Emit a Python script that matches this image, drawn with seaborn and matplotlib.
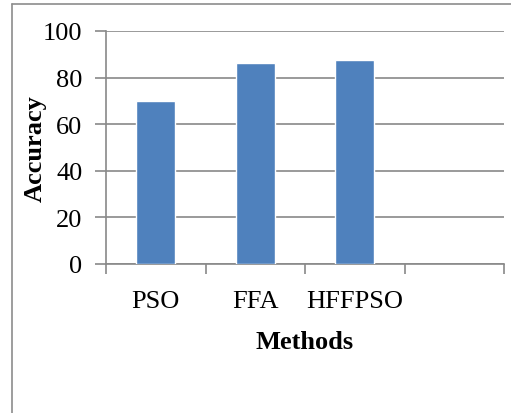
import numpy as np
import pandas as pd
import seaborn as sns
import matplotlib.pyplot as plt
from matplotlib.lines import Line2D

# chart data
methods = ["PSO", "FFA", "HFFPSO", ""]
accuracy = [70, 86.3, 87.5, np.nan]
yticks = [0, 20, 40, 60, 80, 100]

df = pd.DataFrame({"Methods": methods, "Accuracy": accuracy})

sns.set_theme(style="white")
plt.rcParams["font.family"] = ["Liberation Serif", "DejaVu Serif"]

fs = 19
fig = plt.figure(figsize=(5.11, 4.14), dpi=100)
ax = fig.add_axes([106 / 511, 1 - 265 / 414, 398 / 511, 233 / 414])

sns.barplot(data=df, x="Methods", y="Accuracy", order=methods, color="#4f81bd",
            width=0.39, saturation=1, ax=ax, zorder=3)

grid_c = "#898989"
ax.set_ylim(0, 100)
ax.set_xlim(-0.5, len(methods) - 0.5)
ax.set_yticks(yticks)
ax.set_yticklabels([str(t) for t in yticks], fontsize=fs)
ax.set_xticks(range(len(methods)))
ax.set_xticklabels(methods, fontsize=fs)
ax.set_xticks(np.arange(-0.5, len(methods)), minor=True)
ax.tick_params(axis="x", which="major", bottom=True, length=0, pad=19, colors="black")
ax.tick_params(axis="x", which="minor", bottom=True, length=7, width=1.2,
               color=grid_c, direction="out")
ax.tick_params(axis="y", left=True, length=8, width=1.2, color=grid_c,
               direction="out", pad=9, labelcolor="black")
ax.yaxis.grid(True, color=grid_c, linewidth=1.2, zorder=0)
ax.set_axisbelow(True)

for s in ["top", "right"]:
    ax.spines[s].set_visible(False)
for s in ["left", "bottom"]:
    ax.spines[s].set_color(grid_c)
    ax.spines[s].set_linewidth(1.2)

ax.set_xlabel("Methods", fontsize=fs, fontweight="bold", labelpad=13, color="black")
ax.set_ylabel("Accuracy", fontsize=fs, fontweight="bold", color="black")
ax.yaxis.set_label_coords(-0.150, 0.5)

# outer frame of the chart area
fig.add_artist(Line2D([12 / 511, 12 / 511], [0, 1 - 5 / 414], color="#8c8c8c", lw=1.2))
fig.add_artist(Line2D([12 / 511, 1], [1 - 5 / 414, 1 - 5 / 414], color="#8c8c8c", lw=1.2))

fig.savefig("out.png", dpi=100)
